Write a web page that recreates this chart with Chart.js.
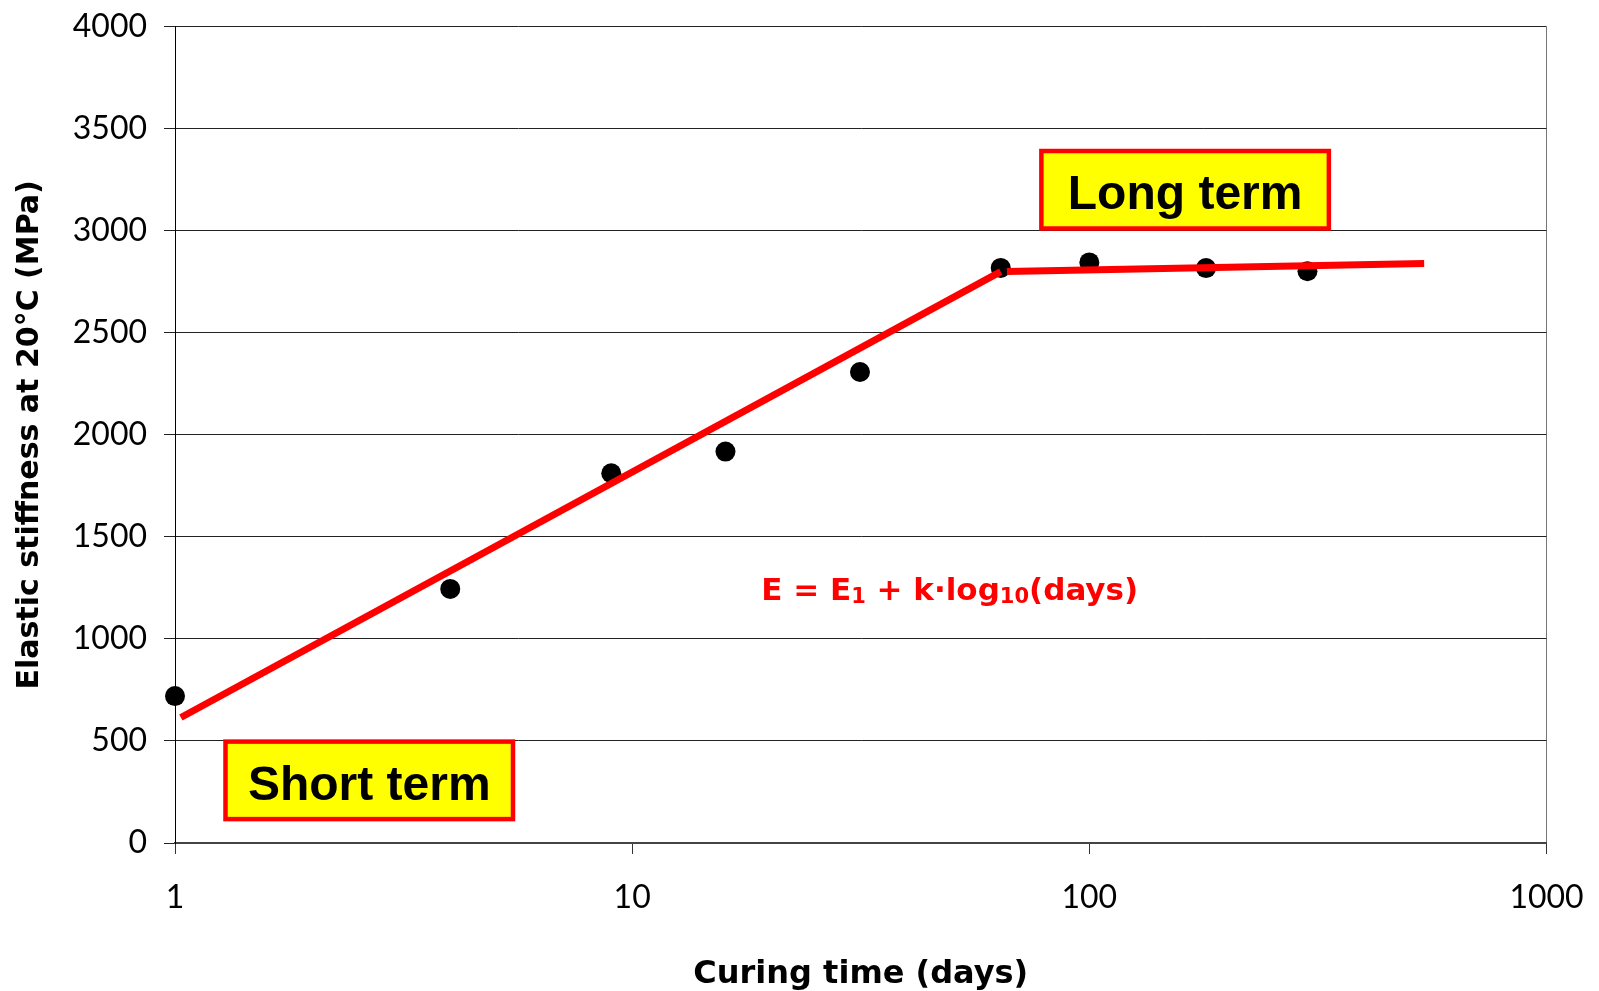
<!DOCTYPE html>
<html>
<head>
<meta charset="utf-8">
<title>Elastic stiffness vs curing time</title>
<script src="https://cdn.jsdelivr.net/npm/chart.js@4.4.1/dist/chart.umd.min.js"></script>
<style>
  html, body { margin: 0; padding: 0; background: #fff; }
  canvas { display: block; }
</style>
</head>
<body>
<canvas id="stiffnessChart" width="1599" height="991"></canvas>
<script>
// measured stiffness (MPa) against curing time (days)
const curingDays = [1, 4, 9, 16, 31.5, 64, 100, 180, 300];
const stiffness = [720, 1245, 1812, 1918, 2308, 2818, 2845, 2817, 2802];

// log-linear fit for the early part, nearly flat fit afterwards
const shortTermFit = [{ x: 1.03, y: 615 }, { x: 64, y: 2800 }];
const longTermFit = [{ x: 66, y: 2800 }, { x: 540, y: 2840 }];

const xTickValues = [1, 10, 100, 1000];

const tickFont = 'Lato, "DejaVu Sans", sans-serif';
const titleFont = '"DejaVu Sans", Verdana, sans-serif';

// yellow boxes, anchored on their centre in data units
const termBoxes = [
  { text: 'Short term', x: 2.66, y: 307 },
  { text: 'Long term', x: 162, y: 3201 }
];

// formula pieces, sub = drawn as subscript
const formulaParts = [
  { t: 'E = E', sub: false },
  { t: '1', sub: true },
  { t: ' + k\u00b7log', sub: false },
  { t: '10', sub: true },
  { t: '(days)', sub: false }
];
const formulaAt = { x: 49.5, y: 1250 };

const annotations = {
  id: 'annotations',
  afterDraw(chart) {
    const { ctx, scales: { x, y } } = chart;
    ctx.save();

    termBoxes.forEach(b => {
      const cx = x.getPixelForValue(b.x);
      const cy = y.getPixelForValue(b.y);
      const w = 287.5, h = 77.5;
      ctx.fillStyle = '#ffff00';
      ctx.fillRect(cx - w / 2, cy - h / 2, w, h);
      ctx.lineWidth = 4.5;
      ctx.strokeStyle = '#ff0000';
      ctx.strokeRect(cx - w / 2, cy - h / 2, w, h);
      ctx.fillStyle = '#000';
      ctx.font = 'bold 48px "Liberation Sans", Arial, sans-serif';
      ctx.textAlign = 'center';
      ctx.textBaseline = 'alphabetic';
      ctx.fillText(b.text, cx, cy + 19.5);
    });

    // formula with subscripts, centred on its anchor
    const mainFont = 'bold 31px ' + titleFont;
    const subFont = 'bold 21px ' + titleFont;
    ctx.textAlign = 'left';
    ctx.textBaseline = 'alphabetic';
    let total = 0;
    formulaParts.forEach(p => {
      ctx.font = p.sub ? subFont : mainFont;
      total += ctx.measureText(p.t).width;
    });
    let px = x.getPixelForValue(formulaAt.x) - total / 2;
    const base = y.getPixelForValue(formulaAt.y) + 12;
    ctx.fillStyle = '#ff0000';
    formulaParts.forEach(p => {
      ctx.font = p.sub ? subFont : mainFont;
      ctx.fillText(p.t, px, p.sub ? base + 3 : base);
      px += ctx.measureText(p.t).width;
    });

    ctx.restore();
  }
};

new Chart(document.getElementById('stiffnessChart'), {
  type: 'scatter',
  data: {
    datasets: [
      {
        data: shortTermFit,
        showLine: true,
        borderColor: '#ff0000',
        borderWidth: 7,
        pointRadius: 0
      },
      {
        data: longTermFit,
        showLine: true,
        borderColor: '#ff0000',
        borderWidth: 7,
        pointRadius: 0
      },
      {
        data: curingDays.map((d, i) => ({ x: d, y: stiffness[i] })),
        pointRadius: 10,
        pointBackgroundColor: '#000',
        pointBorderWidth: 0,
        clip: false
      }
    ]
  },
  options: {
    responsive: false,
    animation: false,
    devicePixelRatio: 1,
    layout: { padding: { top: 26.7, right: 52.5, left: 0, bottom: 0 } },
    plugins: {
      legend: { display: false },
      tooltip: { enabled: false }
    },
    scales: {
      x: {
        type: 'logarithmic',
        min: 1,
        max: 1000,
        afterBuildTicks: scale => {
          scale.ticks = xTickValues.map(v => ({ value: v }));
        },
        afterFit: scale => {
          scale.height = 148;
          // the layout padding already leaves room for the end labels
          scale.paddingLeft = 0;
          scale.paddingRight = 0;
        },
        grid: {
          color: c => (c.tick && c.tick.value === 1000 ? '#777' : 'rgba(0,0,0,0)'),
          tickColor: '#333',
          tickLength: 11,
          lineWidth: 1
        },
        border: { color: '#444', width: 2 },
        ticks: {
          callback: v => String(v),
          color: '#000',
          font: { family: tickFont, size: 32 },
          padding: 24,
          maxRotation: 0,
          autoSkip: false
        },
        title: {
          display: true,
          text: 'Curing time (days)',
          color: '#000',
          font: { family: titleFont, size: 32, weight: 'bold' },
          padding: { top: 0, bottom: -3 }
        }
      },
      y: {
        min: 0,
        max: 4000,
        afterFit: scale => {
          scale.width = 175;
          scale.paddingTop = 0;
          scale.paddingBottom = 0;
        },
        grid: { color: '#222', tickLength: 11, lineWidth: 1 },
        border: { color: '#000', width: 1 },
        ticks: {
          stepSize: 500,
          callback: v => String(v),
          color: '#000',
          font: { family: tickFont, size: 32 },
          padding: 17
        },
        title: {
          display: true,
          text: 'Elastic stiffness at 20\u00b0C (MPa)',
          color: '#000',
          font: { family: titleFont, size: 30, weight: 'bold' },
          padding: { top: 12, bottom: 0 }
        }
      }
    }
  },
  plugins: [annotations]
});
</script>
</body>
</html>
